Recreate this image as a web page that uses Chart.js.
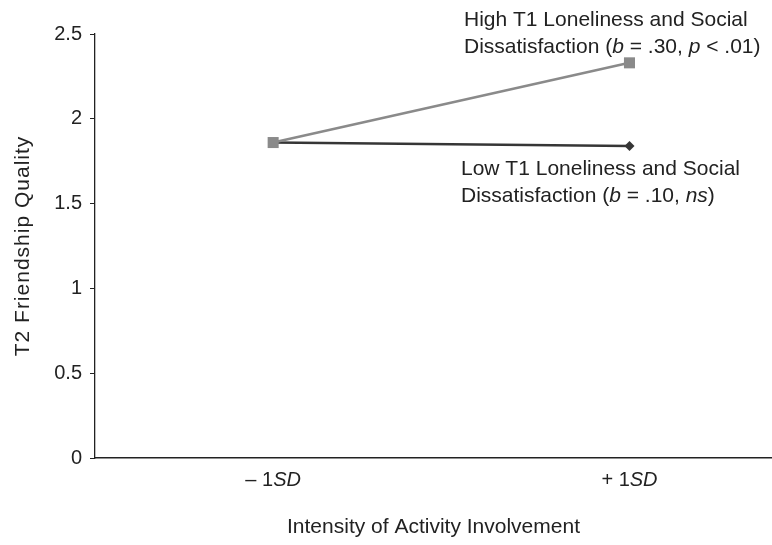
<!DOCTYPE html>
<html>
<head>
<meta charset="utf-8">
<script src="https://cdn.jsdelivr.net/npm/chart.js@4"></script>
<style>
  html, body { margin: 0; padding: 0; background: #fff; }
</style>
</head>
<body>
<canvas id="friendChart" width="772" height="545"></canvas>
<script>
  // Data
  const xValues = [0, 1];
  const xTickLabels = [['\u2013 1', 'SD'], ['+ 1', 'SD']];
  const highValues = [1.86, 2.33];
  const lowValues = [1.86, 1.84];
  const yTicks = [0, 0.5, 1, 1.5, 2, 2.5];

  const FONT = '"Liberation Sans", Arial, Helvetica, sans-serif';
  const TEXT = '#222';

  // draws a line of text made of plain / italic pieces
  function drawRich(ctx, parts, x, y, size, align) {
    ctx.textBaseline = 'middle';
    ctx.textAlign = 'left';
    let total = 0;
    parts.forEach(p => {
      ctx.font = (p.i ? 'italic ' : '') + size + 'px ' + FONT;
      total += ctx.measureText(p.t).width;
    });
    let cx = align === 'center' ? x - total / 2 : x;
    parts.forEach(p => {
      ctx.font = (p.i ? 'italic ' : '') + size + 'px ' + FONT;
      ctx.fillText(p.t, cx, y);
      cx += ctx.measureText(p.t).width;
    });
  }

  // x tick labels, y title and the two line labels
  const labelPlugin = {
    id: 'labels',
    afterDraw(chart) {
      const ctx = chart.ctx;
      const xs = chart.scales.x;
      const area = chart.chartArea;
      ctx.save();
      ctx.fillStyle = TEXT;
      xValues.forEach((v, i) => {
        drawRich(ctx, [{ t: xTickLabels[i][0] }, { t: xTickLabels[i][1], i: true }],
          xs.getPixelForValue(v), 480, 20, 'center');
      });
      drawRich(ctx, [{ t: 'High T1 Loneliness and Social' }], 464, 20, 21);
      drawRich(ctx, [{ t: 'Dissatisfaction (' }, { t: 'b', i: true }, { t: ' = .30, ' },
        { t: 'p', i: true }, { t: ' < .01)' }], 464, 47, 21);
      drawRich(ctx, [{ t: 'Low T1 Loneliness and Social' }], 461, 169, 21);
      drawRich(ctx, [{ t: 'Dissatisfaction (' }, { t: 'b', i: true }, { t: ' = .10, ' },
        { t: 'ns', i: true }, { t: ')' }], 461, 196, 21);

      // y axis title
      ctx.letterSpacing = '1px';
      ctx.translate(23, (area.top + area.bottom) / 2);
      ctx.rotate(-Math.PI / 2);
      drawRich(ctx, [{ t: 'T2 Friendship Quality' }], 0, 0, 21, 'center');
      ctx.restore();
    }
  };

  const ctx = document.getElementById('friendChart').getContext('2d');
  new Chart(ctx, {
    type: 'line',
    data: {
      datasets: [
        {
          label: 'High T1 Loneliness and Social Dissatisfaction',
          data: xValues.map((x, i) => ({ x: x, y: highValues[i] })),
          borderColor: '#8a8a8a',
          backgroundColor: '#8a8a8a',
          borderWidth: 2.5,
          pointStyle: 'rect',
          pointRadius: 7.8,
          pointBorderWidth: 0,
        },
        {
          label: 'Low T1 Loneliness and Social Dissatisfaction',
          data: xValues.map((x, i) => ({ x: x, y: lowValues[i] })),
          borderColor: '#363636',
          backgroundColor: '#363636',
          borderWidth: 2.5,
          pointStyle: 'rectRot',
          pointRadius: 5,
          pointBorderWidth: 0,
        },
      ],
    },
    options: {
      responsive: false,
      animation: false,
      layout: { autoPadding: false, padding: { top: 34, right: 0, left: 0, bottom: 0 } },
      plugins: {
        legend: { display: false },
        tooltip: { enabled: false },
      },
      scales: {
        x: {
          type: 'linear',
          min: -0.5,
          max: 1.4,
          ticks: { display: false },
          grid: { display: false },
          border: { display: true, color: '#222', width: 1.5 },
          title: {
            display: true,
            text: 'Intensity of Activity Involvement',
            color: TEXT,
            font: { family: FONT, size: 21 },
            padding: { top: 5, bottom: 5 },
          },
          afterFit(scale) { scale.height = 87; },
        },
        y: {
          min: 0,
          max: 2.5,
          afterBuildTicks(scale) { scale.ticks = yTicks.map(v => ({ value: v })); },
          ticks: {
            color: TEXT,
            font: { family: FONT, size: 20 },
            padding: 8,
            callback: v => String(v),
          },
          grid: { drawOnChartArea: false, tickLength: 5, color: '#222' },
          border: { color: '#222', width: 1.3 },
          afterFit(scale) { scale.width = 95; },
        },
      },
    },
    plugins: [labelPlugin],
  });
</script>
</body>
</html>
